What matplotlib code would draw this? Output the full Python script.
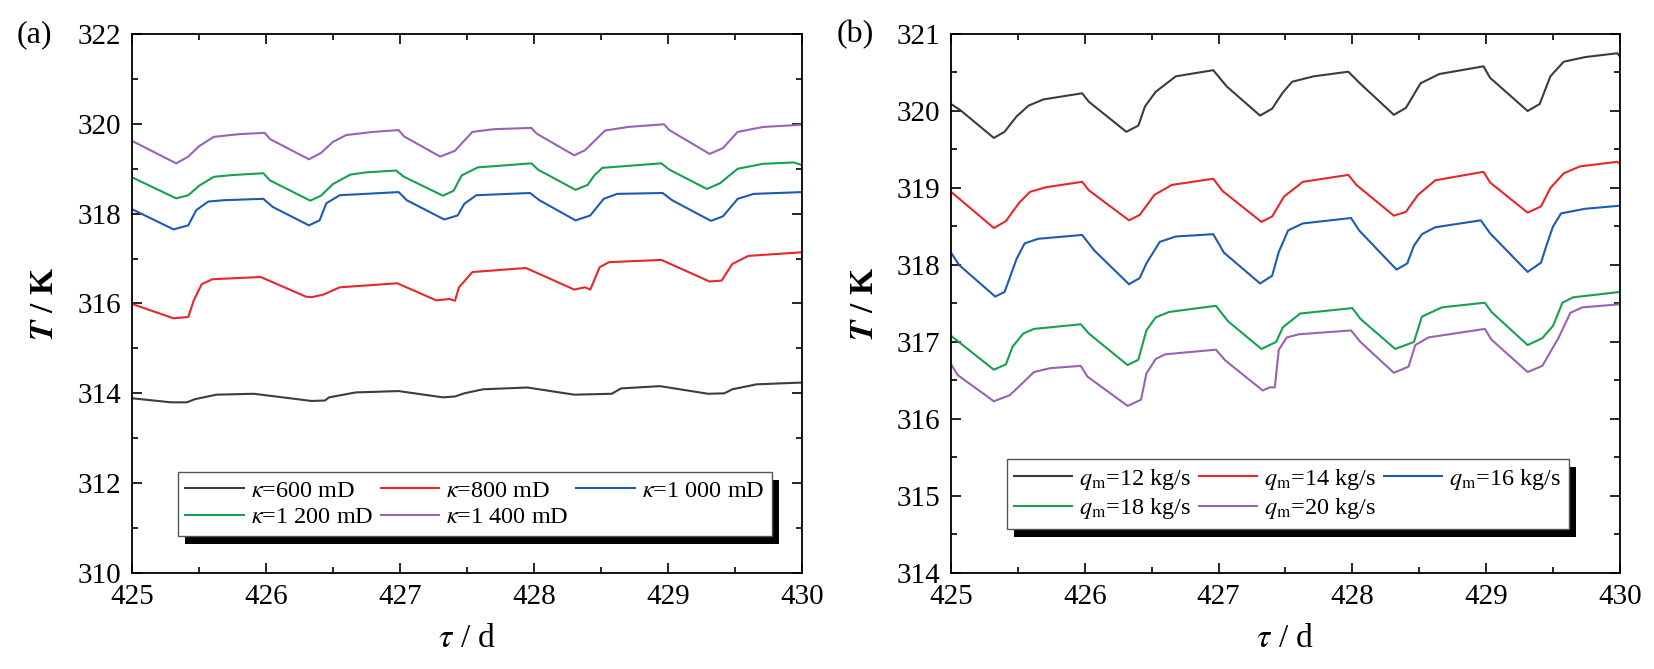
"""
Temperature curves T over time for two parameter sweeps
(a) permeability kappa, (b) mass flow q_m
"""

import matplotlib
matplotlib.use("Agg")
import matplotlib.pyplot as plt
from matplotlib.patches import Rectangle
from matplotlib.ticker import MultipleLocator
from matplotlib.transforms import IdentityTransform

# ── panel (a): kappa sweep ──────────────────────────────
a_k600_t = [425.0, 425.29, 425.41, 425.47, 425.63, 425.91, 426.34, 426.44, 426.47, 426.67,
            426.99, 427.32, 427.41, 427.48, 427.62, 427.95, 428.30, 428.58, 428.65, 428.94,
            429.30, 429.42, 429.48, 429.66, 430.0]
a_k600_T = [313.89, 313.80, 313.80, 313.87, 313.97, 313.99, 313.83, 313.84, 313.91, 314.02,
            314.05, 313.91, 313.93, 314.00, 314.09, 314.13, 313.97, 313.99, 314.11, 314.16,
            313.99, 314.00, 314.09, 314.20, 314.24]

a_k800_t = [425.0, 425.31, 425.42, 425.46, 425.52, 425.60, 425.96, 426.30, 426.34, 426.43,
            426.55, 426.98, 427.27, 427.37, 427.41, 427.44, 427.54, 427.94, 428.30, 428.38,
            428.42, 428.49, 428.56, 428.95, 429.31, 429.40, 429.48, 429.60, 430.0]
a_k800_T = [315.99, 315.67, 315.70, 316.06, 316.43, 316.54, 316.59, 316.15, 316.14, 316.20,
            316.36, 316.45, 316.07, 316.10, 316.06, 316.36, 316.70, 316.79, 316.31, 316.36,
            316.31, 316.81, 316.92, 316.97, 316.49, 316.51, 316.88, 317.06, 317.14]

a_k1000_t = [425.0, 425.31, 425.42, 425.48, 425.57, 425.69, 425.98, 426.05, 426.32, 426.40,
             426.45, 426.55, 426.99, 427.05, 427.33, 427.43, 427.48, 427.57, 427.97, 428.04,
             428.31, 428.42, 428.52, 428.62, 428.96, 429.03, 429.32, 429.41, 429.52, 429.64,
             430.0]
a_k1000_T = [318.10, 317.65, 317.74, 318.08, 318.27, 318.30, 318.33, 318.15, 317.74, 317.85,
             318.23, 318.41, 318.48, 318.30, 317.87, 317.96, 318.22, 318.41, 318.46, 318.30,
             317.85, 317.96, 318.33, 318.44, 318.46, 318.30, 317.84, 317.94, 318.33, 318.44,
             318.48]

a_k1200_t = [425.0, 425.33, 425.42, 425.50, 425.61, 425.75, 425.98, 426.03, 426.33, 426.41,
             426.50, 426.63, 426.75, 426.97, 427.03, 427.32, 427.40, 427.46, 427.58, 427.98,
             428.03, 428.31, 428.40, 428.45, 428.51, 428.95, 429.01, 429.29, 429.39, 429.45,
             429.52, 429.71, 429.94, 430.0]
a_k1200_T = [318.81, 318.34, 318.41, 318.62, 318.82, 318.86, 318.90, 318.74, 318.29, 318.40,
             318.66, 318.87, 318.92, 318.96, 318.82, 318.40, 318.51, 318.85, 319.03, 319.12,
             318.98, 318.53, 318.64, 318.85, 319.02, 319.12, 318.98, 318.55, 318.68, 318.83,
             319.00, 319.11, 319.14, 319.08]

a_k1400_t = [425.0, 425.33, 425.42, 425.50, 425.61, 425.80, 425.99, 426.03, 426.32, 426.41,
             426.50, 426.60, 426.80, 426.99, 427.03, 427.30, 427.41, 427.54, 427.70, 427.98,
             428.02, 428.30, 428.38, 428.53, 428.70, 428.97, 429.01, 429.31, 429.41, 429.52,
             429.71, 430.0]
a_k1400_T = [319.62, 319.12, 319.27, 319.50, 319.71, 319.77, 319.80, 319.66, 319.21, 319.35,
             319.60, 319.75, 319.82, 319.86, 319.72, 319.27, 319.40, 319.82, 319.88, 319.91,
             319.78, 319.30, 319.41, 319.85, 319.93, 319.99, 319.86, 319.33, 319.46, 319.82,
             319.93, 319.98]

# ── panel (b): mass flow sweep ──────────────────────────
b_q12_t = [425.0, 425.07, 425.32, 425.40, 425.49, 425.58, 425.69, 425.98, 426.03, 426.31,
           426.40, 426.45, 426.53, 426.68, 426.96, 427.06, 427.31, 427.40, 427.48, 427.55,
           427.71, 427.97, 428.05, 428.31, 428.40, 428.51, 428.65, 428.98, 429.03, 429.31,
           429.40, 429.48, 429.58, 429.74, 429.98, 430.0]
b_q12_T = [320.09, 320.01, 319.65, 319.73, 319.93, 320.07, 320.15, 320.23, 320.12, 319.73,
           319.81, 320.06, 320.25, 320.45, 320.53, 320.32, 319.94, 320.03, 320.24, 320.38,
           320.45, 320.51, 320.37, 319.95, 320.04, 320.36, 320.48, 320.58, 320.43, 320.00,
           320.09, 320.45, 320.64, 320.70, 320.75, 320.71]

b_q14_t = [425.0, 425.32, 425.41, 425.51, 425.59, 425.71, 425.98, 426.03, 426.33, 426.41,
           426.52, 426.65, 426.96, 427.03, 427.32, 427.40, 427.49, 427.63, 427.97, 428.03,
           428.31, 428.40, 428.49, 428.62, 428.98, 429.03, 429.31, 429.41, 429.48, 429.58,
           429.70, 429.98, 430.0]
b_q14_T = [318.95, 318.48, 318.57, 318.81, 318.95, 319.01, 319.08, 318.97, 318.58, 318.65,
           318.91, 319.04, 319.12, 318.96, 318.56, 318.63, 318.89, 319.08, 319.17, 319.04,
           318.64, 318.69, 318.91, 319.10, 319.21, 319.07, 318.68, 318.76, 319.00, 319.19,
           319.28, 319.34, 319.31]

b_q16_t = [425.0, 425.06, 425.33, 425.40, 425.44, 425.49, 425.55, 425.65, 425.98, 426.07,
           426.33, 426.41, 426.46, 426.56, 426.68, 426.96, 427.04, 427.31, 427.40, 427.45,
           427.52, 427.63, 427.99, 428.05, 428.33, 428.41, 428.46, 428.52, 428.62, 428.96,
           429.03, 429.31, 429.41, 429.45, 429.50, 429.56, 429.74, 430.0]
b_q16_T = [318.16, 318.00, 317.59, 317.65, 317.84, 318.08, 318.28, 318.34, 318.39, 318.19,
           317.75, 317.83, 318.02, 318.30, 318.37, 318.40, 318.16, 317.76, 317.86, 318.17,
           318.45, 318.54, 318.61, 318.45, 317.94, 318.02, 318.25, 318.40, 318.49, 318.58,
           318.41, 317.91, 318.03, 318.25, 318.50, 318.67, 318.73, 318.77]

b_q18_t = [425.0, 425.32, 425.41, 425.46, 425.54, 425.62, 425.97, 426.03, 426.32, 426.40,
           426.46, 426.53, 426.63, 426.98, 427.07, 427.32, 427.43, 427.48, 427.61, 428.0,
           428.06, 428.32, 428.46, 428.52, 428.67, 428.99, 429.04, 429.31, 429.42, 429.50,
           429.57, 429.65, 430.0]
b_q18_T = [317.08, 316.64, 316.71, 316.94, 317.11, 317.17, 317.23, 317.11, 316.70, 316.77,
           317.15, 317.32, 317.39, 317.47, 317.27, 316.91, 317.00, 317.19, 317.37, 317.44,
           317.30, 316.91, 317.00, 317.33, 317.45, 317.51, 317.39, 316.96, 317.05, 317.21,
           317.51, 317.58, 317.65]

b_q20_t = [425.0, 425.05, 425.32, 425.44, 425.62, 425.74, 425.97, 426.02, 426.32, 426.42,
           426.46, 426.53, 426.60, 426.98, 427.05, 427.33, 427.38, 427.42, 427.45, 427.51,
           427.60, 427.99, 428.06, 428.31, 428.42, 428.47, 428.57, 428.99, 429.04, 429.31,
           429.42, 429.54, 429.63, 429.72, 430.0]
b_q20_T = [316.71, 316.57, 316.23, 316.31, 316.61, 316.66, 316.69, 316.55, 316.17, 316.25,
           316.59, 316.78, 316.84, 316.90, 316.76, 316.37, 316.41, 316.41, 316.90, 317.06,
           317.10, 317.15, 317.00, 316.60, 316.68, 316.96, 317.06, 317.17, 317.03, 316.61,
           316.69, 317.05, 317.38, 317.45, 317.49]

a_labels = [r"$\kappa$=600 mD", r"$\kappa$=800 mD", r"$\kappa$=1 000 mD",
            r"$\kappa$=1 200 mD", r"$\kappa$=1 400 mD"]
b_labels = [r"$q_{\mathrm{m}}$=12 kg/s", r"$q_{\mathrm{m}}$=14 kg/s", r"$q_{\mathrm{m}}$=16 kg/s",
            r"$q_{\mathrm{m}}$=18 kg/s", r"$q_{\mathrm{m}}$=20 kg/s"]

COLORS = ["#3c3c3c", "#e8262b", "#1c5bb0", "#17a050", "#9a62b5"]

plt.rcParams["font.family"] = ["Liberation Serif", "DejaVu Serif"]
plt.rcParams["mathtext.fontset"] = "stix"


def style_axes(ax, ylim, ymajor, yminor):
    ax.set_xlim(425, 430)
    ax.set_ylim(*ylim)
    ax.xaxis.set_major_locator(MultipleLocator(1))
    ax.xaxis.set_minor_locator(MultipleLocator(0.5))
    ax.yaxis.set_major_locator(MultipleLocator(ymajor))
    ax.yaxis.set_minor_locator(MultipleLocator(yminor))
    ax.tick_params(which="both", direction="in", top=True, right=True, width=1.2,
                   labelsize=21, pad=8)
    ax.tick_params(which="major", length=7)
    ax.tick_params(which="minor", length=4)
    for sp in ax.spines.values():
        sp.set_linewidth(1.3)
    ax.set_xlabel(r"$\tau$ / d", fontsize=24, labelpad=10)
    ax.set_ylabel(r"$\mathbfit{T}$ / K", fontsize=24, fontweight="bold", labelpad=12)


def add_legend(ax, anchor):
    # matplotlib fills columns first; reorder so entries read row by row
    handles, labels = ax.get_legend_handles_labels()
    order = [0, 3, 1, 4, 2]
    leg = ax.legend([handles[i] for i in order], [labels[i] for i in order],
                    loc="upper left", bbox_to_anchor=anchor, ncol=3, fontsize=17.5,
                    frameon=True, fancybox=False, framealpha=1, edgecolor="#555555",
                    handlelength=2.4, handletextpad=0.3, columnspacing=0.3,
                    labelspacing=0.2, borderpad=0.3, borderaxespad=0)
    leg.get_frame().set_linewidth(1.0)
    return leg


def add_shadow(fig, ax, leg, dx=7, dy=8):
    # solid black drop shadow like the Origin legend
    fig.canvas.draw()
    bb = leg.get_frame().get_window_extent()
    sh = Rectangle((bb.x0 + dx, bb.y0 - dy), bb.width, bb.height,
                   transform=IdentityTransform(), facecolor="black", edgecolor="none",
                   zorder=leg.get_zorder() - 0.1)
    ax.add_artist(sh)
    sh.set_clip_on(False)


fig = plt.figure(figsize=(16.54, 6.69), dpi=100)
fig.patch.set_facecolor("white")
ax_a = fig.add_axes([0.0798, 0.1435, 0.4051, 0.8057])
ax_b = fig.add_axes([0.5750, 0.1435, 0.4044, 0.8057])

a_series = [(a_k600_t, a_k600_T), (a_k800_t, a_k800_T), (a_k1000_t, a_k1000_T),
            (a_k1200_t, a_k1200_T), (a_k1400_t, a_k1400_T)]
b_series = [(b_q12_t, b_q12_T), (b_q14_t, b_q14_T), (b_q16_t, b_q16_T),
            (b_q18_t, b_q18_T), (b_q20_t, b_q20_T)]

for (t, T), lab, c in zip(a_series, a_labels, COLORS):
    ax_a.plot(t, T, color=c, linewidth=1.5, label=lab)
for (t, T), lab, c in zip(b_series, b_labels, COLORS):
    ax_b.plot(t, T, color=c, linewidth=1.5, label=lab)

style_axes(ax_a, (310, 322), 2, 1)
style_axes(ax_b, (314, 321), 1, 0.5)

leg_a = add_legend(ax_a, (0.0687, 0.187))
leg_b = add_legend(ax_b, (0.083, 0.211))

fig.text(34 / 1654, 1 - 35 / 669, "(a)", fontsize=23, ha="center", va="center")
fig.text(855 / 1654, 1 - 35 / 669, "(b)", fontsize=23, ha="center", va="center")

add_shadow(fig, ax_a, leg_a)
add_shadow(fig, ax_b, leg_b)

fig.savefig("out.png", dpi=100, facecolor="white")
plt.close(fig)
